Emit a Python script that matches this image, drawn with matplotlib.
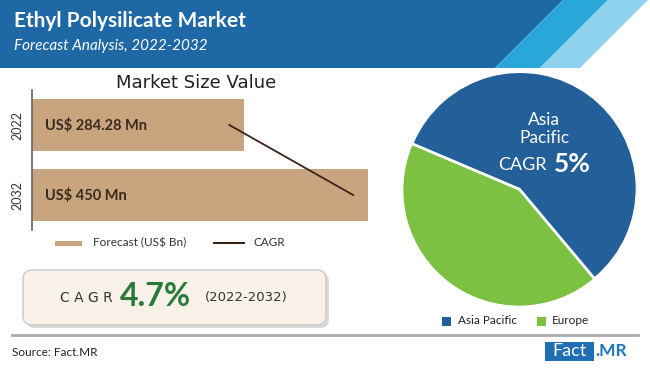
import matplotlib
matplotlib.use("Agg")
import matplotlib.pyplot as plt
from matplotlib.patches import Polygon, FancyBboxPatch, Rectangle
from matplotlib.lines import Line2D

plt.rcParams['font.family'] = ['Lato', 'DejaVu Sans']

# data
years = ['2022', '2032']
market_value = [284.28, 450]
value_labels = ['US$ 284.28 Mn', 'US$ 450 Mn']
regions = ['Asia Pacific', 'Europe']
region_share = [57.5, 42.5]

title = 'Ethyl Polysilicate Market'
subtitle = 'Forecast Analysis, 2022-2032'
cagr_text = '4.7%'
cagr_period = '(2022-2032)'
apac_cagr = '5%'

W, H = 650, 370
fig = plt.figure(figsize=(W / 100, H / 100), dpi=100)


def px_axes(x0, y0, x1, y1):
    # axes from pixel box (top-left origin)
    return fig.add_axes([x0 / W, 1 - y1 / H, (x1 - x0) / W, (y1 - y0) / H])


# background / decoration layer in pixel coords
bg = fig.add_axes([0, 0, 1, 1])
bg.set_xlim(0, W)
bg.set_ylim(H, 0)
bg.axis('off')

bg.add_patch(Polygon([(0, 0), (563, 0), (495, 68), (0, 68)], closed=True,
                     fc='#1e68a5', ec='none'))
bg.add_patch(Polygon([(563, 0), (608, 0), (540, 68), (495, 68)], closed=True,
                     fc='#29a6da', ec='none'))
bg.add_patch(Polygon([(608, 0), (648, 0), (580, 68), (540, 68)], closed=True,
                     fc='#8fd2ed', ec='none'))

bg.text(14, 21, title, color='white', fontsize=15, fontweight='bold',
        va='center', ha='left')
bg.text(14, 46, subtitle, color='white', fontsize=11, style='italic',
        va='center', ha='left')

# bar chart title + legend
bg.text(196, 83, 'Market Size Value', fontsize=13, color='#222222',
        family=['DejaVu Sans'], ha='center', va='center')
bg.add_patch(Rectangle((55, 240.5), 27, 5, fc='#c8a57f', ec='none'))
bg.text(93, 243, 'Forecast (US$ Bn)', fontsize=8.5, color='#333333',
        va='center', ha='left')
bg.add_line(Line2D([214, 244], [243, 243], color='#3d2216', lw=1.5))
bg.text(253, 243, 'CAGR', fontsize=8.5, color='#333333', va='center', ha='left')

# CAGR box
bg.add_patch(FancyBboxPatch((26, 273), 303, 55,
                            boxstyle='round,pad=0,rounding_size=9',
                            fc='#d9d9d9', ec='none'))
bg.add_patch(FancyBboxPatch((23, 270), 303, 55,
                            boxstyle='round,pad=0,rounding_size=9',
                            fc='#f7f1e8', ec='#c9c9c9', lw=1))
bg.text(86, 298, 'C A G R', fontsize=10, color='#333333', family=['DejaVu Sans'],
        ha='center', va='center')
bg.text(155, 297, cagr_text, fontsize=23, color='#2a7a3b', fontweight='bold',
        ha='center', va='center')
bg.text(246, 298, cagr_period, fontsize=9.5, color='#333333',
        family=['DejaVu Sans'], ha='center', va='center')

# footer
bg.add_line(Line2D([12, 638], [335, 335], color='#aaaaaa', lw=2))
bg.text(12, 353, 'Source: Fact.MR', fontsize=8.5, color='#222222',
        va='center', ha='left')
bg.add_patch(Rectangle((545, 342), 49, 19, fc='#1f6fb2', ec='none'))
bg.text(569.5, 351.5, 'Fact', fontsize=13, color='white', ha='center', va='center')
bg.text(595, 351.5, '.MR', fontsize=12.5, color='#1f75bb', fontweight='bold',
        ha='left', va='center')

# pie legend
bg.add_patch(Rectangle((442, 316.5), 9, 9, fc='#23609a', ec='none'))
bg.text(458, 321, regions[0], fontsize=8.5, color='#222222', va='center', ha='left')
bg.add_patch(Rectangle((537, 316.5), 9, 9, fc='#7dc142', ec='none'))
bg.text(552, 321, regions[1], fontsize=8.5, color='#222222', va='center', ha='left')

# bar chart
ax = px_axes(32, 90, 380, 230)
ypos = list(range(len(years)))
ax.barh(ypos, market_value, height=0.74, color='#c8a57f')
ax.set_ylim(1.5, -0.5)
ax.set_xlim(0, 466)
ax.set_yticks(ypos)
ax.set_yticklabels(years, rotation=90, va='center', fontsize=9, color='#333333')
ax.tick_params(axis='y', length=0, pad=6)
ax.set_xticks([])
for s in ['top', 'right', 'bottom']:
    ax.spines[s].set_visible(False)
ax.spines['left'].set_color('#666666')
ax.spines['left'].set_linewidth(1.2)
ax.patch.set_alpha(0)
for y, lab in zip(ypos, value_labels):
    ax.text(18, y, lab, fontsize=10.5, fontweight='bold', color='#3a2a1e',
            va='center', ha='left')
ax.plot([v - 20 for v in market_value], ypos, color='#3d2216', lw=1.3)

# pie chart
pax = px_axes(519 - 122, 190 - 122, 519 + 122, 190 + 122)
wedges, _ = pax.pie(region_share, colors=['#23609a', '#7dc142'], startangle=157,
                    counterclock=False, explode=[0.015, 0],
                    wedgeprops=dict(edgecolor='white', linewidth=0.8))
pax.set_xlim(-1.05, 1.05)
pax.set_ylim(-1.05, 1.05)
pax.set_aspect('equal')
pax.axis('off')

# labels on the pie, placed in pixel coords but drawn above the pie
tr = bg.transData
pax.text(544, 120, 'Asia', fontsize=12.5, color='white', ha='center', va='center',
         transform=tr, clip_on=False)
pax.text(544, 138, 'Pacific', fontsize=12.5, color='white', ha='center', va='center',
         transform=tr, clip_on=False)
pax.text(522, 165, 'CAGR', fontsize=13, color='white', ha='center', va='center',
         transform=tr, clip_on=False)
pax.text(572, 164, apac_cagr, fontsize=19, color='white', fontweight='bold',
         ha='center', va='center', transform=tr, clip_on=False)

fig.savefig('out.png', dpi=100)
